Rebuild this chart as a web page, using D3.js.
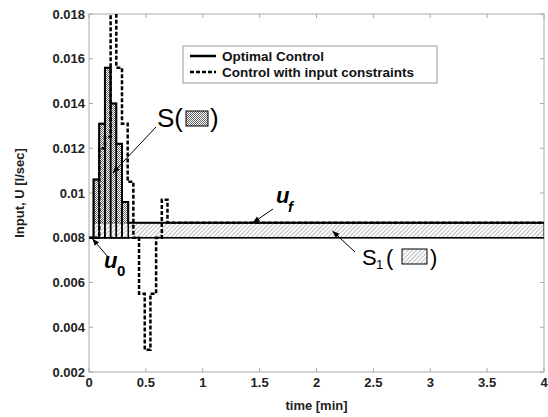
<!DOCTYPE html>
<html><head><meta charset="utf-8">
<script src="https://cdn.jsdelivr.net/npm/d3@7"></script>
<style>body{margin:0;background:#fff}svg{display:block}text{font-family:"Liberation Sans",Arial,sans-serif}</style>
</head><body>
<script>
// ---- data ----
const solidT = [0, 0.04, 0.09, 0.14, 0.19, 0.24, 0.29, 0.345, 4];
const solidV = [0.008, 0.0106, 0.0131, 0.0156, 0.0140, 0.0122, 0.0096, 0.00867, 0.00867];
const dashT = [0, 0.09, 0.14, 0.19, 0.24, 0.29, 0.34, 0.39, 0.44, 0.49, 0.54, 0.59, 0.64, 0.69, 4];
const dashV = [0.008, 0.0120, 0.0125, 0.0195, 0.0156, 0.0131, 0.0105, 0.008, 0.0055, 0.003, 0.0055, 0.008, 0.0097, 0.00867, 0.00867];
const u0 = 0.008, uf = 0.00867;
const xTicks = [0, 0.5, 1, 1.5, 2, 2.5, 3, 3.5, 4];
const xTickLabels = ["0", "0.5", "1", "1.5", "2", "2.5", "3", "3.5", "4"];
const yTicks = [0.002, 0.004, 0.006, 0.008, 0.01, 0.012, 0.014, 0.016, 0.018];
const yTickLabels = ["0.002", "0.004", "0.006", "0.008", "0.01", "0.012", "0.014", "0.016", "0.018"];
const legendLabels = ["Optimal Control", "Control with input constraints"];

const W = 548, H = 417;
const L = 89, R = 544, T = 14, B = 372;
const x = d3.scaleLinear().domain([0, 4]).range([L, R]);
const y = d3.scaleLinear().domain([0.002, 0.018]).range([B, T]);

const svg = d3.select("body").append("svg").attr("width", W).attr("height", H);
const defs = svg.append("defs");
const chk = defs.append("pattern").attr("id", "chk").attr("patternUnits", "userSpaceOnUse").attr("width", 2).attr("height", 2);
chk.append("rect").attr("width", 2).attr("height", 2).attr("fill", "#fff");
chk.append("rect").attr("width", 1).attr("height", 1).attr("fill", "#666");
chk.append("rect").attr("x", 1).attr("y", 1).attr("width", 1).attr("height", 1).attr("fill", "#666");
const hat = defs.append("pattern").attr("id", "hat").attr("patternUnits", "userSpaceOnUse").attr("width", 3).attr("height", 3).attr("patternTransform", "rotate(45)");
hat.append("rect").attr("width", 3).attr("height", 3).attr("fill", "#fff");
hat.append("line").attr("x1", 0).attr("y1", 0).attr("x2", 0).attr("y2", 3).attr("stroke", "#777").attr("stroke-width", 1);
defs.append("clipPath").attr("id", "clip").append("rect").attr("x", L).attr("y", T).attr("width", R - L).attr("height", B - T);
const mk = defs.append("marker").attr("id", "arr").attr("viewBox", "0 0 10 10").attr("refX", 10).attr("refY", 5)
  .attr("markerWidth", 7).attr("markerHeight", 7).attr("orient", "auto");
mk.append("path").attr("d", "M0,1 L10,5 L0,9 Z").attr("fill", "#000");

// frame
svg.append("rect").attr("x", L).attr("y", T).attr("width", R - L).attr("height", B - T)
  .attr("fill", "none").attr("stroke", "#aaa").attr("stroke-width", 1);

// ticks (inward, on all sides)
const tk = svg.append("g").attr("stroke", "#aaa").attr("stroke-width", 1);
xTicks.forEach(t => {
  tk.append("line").attr("x1", x(t)).attr("x2", x(t)).attr("y1", B).attr("y2", B - 4);
  tk.append("line").attr("x1", x(t)).attr("x2", x(t)).attr("y1", T).attr("y2", T + 4);
});
yTicks.forEach(v => {
  tk.append("line").attr("x1", L).attr("x2", L + 4).attr("y1", y(v)).attr("y2", y(v));
  tk.append("line").attr("x1", R).attr("x2", R - 4).attr("y1", y(v)).attr("y2", y(v));
});
// tick labels
svg.append("g").selectAll("text").data(xTicks).join("text")
  .attr("x", d => x(d)).attr("y", B + 15).attr("text-anchor", "middle")
  .attr("font-size", 13).attr("font-weight", "bold").attr("fill", "#222")
  .text((d, i) => xTickLabels[i]);
svg.append("g").selectAll("text").data(yTicks).join("text")
  .attr("x", L - 4).attr("y", d => y(d) + 4.5).attr("text-anchor", "end")
  .attr("font-size", 13).attr("font-weight", "bold").attr("fill", "#222")
  .text((d, i) => yTickLabels[i]);
svg.append("text").attr("x", (L + R) / 2).attr("y", 410).attr("text-anchor", "middle")
  .attr("font-size", 13).attr("font-weight", "bold").attr("fill", "#222").text("time [min]");
svg.append("text").attr("transform", `translate(24,${(T + B) / 2}) rotate(-90)`).attr("text-anchor", "middle")
  .attr("font-size", 13).attr("font-weight", "bold").attr("fill", "#222").text("Input, U [l/sec]");

const g = svg.append("g").attr("clip-path", "url(#clip)");
// S1 band
g.append("rect").attr("x", x(solidT[1])).attr("y", y(uf)).attr("width", x(4) - x(solidT[1])).attr("height", y(u0) - y(uf))
  .attr("fill", "url(#hat)").attr("stroke", "#000").attr("stroke-width", 1);
// S bars
const bars = d3.range(1, solidT.length - 2).map(i => ({t0: solidT[i], t1: solidT[i + 1], v: solidV[i]}));
g.selectAll(".bar").data(bars).join("rect")
  .attr("x", d => x(d.t0)).attr("width", d => x(d.t1) - x(d.t0))
  .attr("y", d => y(d.v)).attr("height", d => y(uf) - y(d.v))
  .attr("fill", "url(#chk)");
g.selectAll(".bo").data(bars).join("rect")
  .attr("x", d => x(d.t0)).attr("width", d => x(d.t1) - x(d.t0))
  .attr("y", d => y(d.v)).attr("height", d => y(u0) - y(d.v))
  .attr("fill", "none").attr("stroke", "#000").attr("stroke-width", 1.5);
// solid step line
const sd = solidT.map((t, i) => [t, solidV[i]]);
const line = d3.line().x(d => x(d[0])).y(d => y(d[1])).curve(d3.curveStepAfter);
g.append("path").attr("d", line(sd)).attr("fill", "none").attr("stroke", "#000").attr("stroke-width", 2);
g.append("line").attr("x1", x(0)).attr("x2", x(4)).attr("y1", y(u0)).attr("y2", y(u0)).attr("stroke", "#000").attr("stroke-width", 1.5);
// dashed
const dd = dashT.map((t, i) => [t, dashV[i]]);
g.append("path").attr("d", line(dd)).attr("fill", "none").attr("stroke", "#000").attr("stroke-width", 2.5)
  .attr("stroke-dasharray", "4,2");

// legend
const lg = svg.append("g");
lg.append("rect").attr("x", 183).attr("y", 46).attr("width", 254).attr("height", 37).attr("fill", "#fff").attr("stroke", "#999");
lg.append("line").attr("x1", 190).attr("x2", 216).attr("y1", 56).attr("y2", 56).attr("stroke", "#000").attr("stroke-width", 2.5);
lg.append("line").attr("x1", 190).attr("x2", 216).attr("y1", 72).attr("y2", 72).attr("stroke", "#000").attr("stroke-width", 2.5).attr("stroke-dasharray", "4,2");
lg.selectAll("text").data(legendLabels).join("text").attr("x", 222).attr("y", (d, i) => 61 + i * 15.5)
  .attr("font-size", 13.5).attr("font-weight", "bold").attr("fill", "#111").text(d => d);

// annotations
svg.append("text").attr("x", 157).attr("y", 127).attr("font-size", 26).attr("fill", "#000").text("S(");
svg.append("rect").attr("x", 186).attr("y", 111).attr("width", 22).attr("height", 15).attr("fill", "url(#chk)").attr("stroke", "#000");
svg.append("text").attr("x", 210).attr("y", 127).attr("font-size", 26).attr("fill", "#000").text(")");
svg.append("line").attr("x1", 156).attr("y1", 127).attr("x2", x(0.21)).attr("y2", y(0.0109)).attr("stroke", "#000").attr("stroke-width", 1).attr("marker-end", "url(#arr)");

svg.append("text").attr("x", 104).attr("y", 268).attr("font-size", 22).attr("font-weight", "bold").attr("font-style", "italic").attr("font-family", "Liberation Serif,serif").text("u");
svg.append("text").attr("x", 117).attr("y", 276).attr("font-size", 15).attr("font-weight", "bold").attr("font-family", "Liberation Serif,serif").text("0");
svg.append("line").attr("x1", 108).attr("y1", 257).attr("x2", x(0.03)).attr("y2", y(u0) + 1).attr("stroke", "#000").attr("stroke-width", 1).attr("marker-end", "url(#arr)");

svg.append("text").attr("x", 276).attr("y", 203).attr("font-size", 22).attr("font-weight", "bold").attr("font-style", "italic").attr("font-family", "Liberation Serif,serif").text("u");
svg.append("text").attr("x", 288).attr("y", 212).attr("font-size", 15).attr("font-weight", "bold").attr("font-style", "italic").attr("font-family", "Liberation Serif,serif").text("f");
svg.append("line").attr("x1", 273).attr("y1", 209).attr("x2", x(1.44)).attr("y2", y(uf)).attr("stroke", "#000").attr("stroke-width", 1).attr("marker-end", "url(#arr)");

svg.append("text").attr("x", 362).attr("y", 265).attr("font-size", 22).attr("fill", "#000").text("S");
svg.append("text").attr("x", 376).attr("y", 269).attr("font-size", 13).attr("fill", "#000").text("1");
svg.append("text").attr("x", 386).attr("y", 265).attr("font-size", 22).attr("fill", "#000").text("(");
svg.append("rect").attr("x", 402).attr("y", 249).attr("width", 25).attr("height", 15).attr("fill", "url(#hat)").attr("stroke", "#000");
svg.append("text").attr("x", 430).attr("y", 265).attr("font-size", 22).attr("fill", "#000").text(")");
svg.append("line").attr("x1", 355).attr("y1", 252).attr("x2", x(2.14)).attr("y2", y(0.0083)).attr("stroke", "#000").attr("stroke-width", 1).attr("marker-end", "url(#arr)");
</script>
</body></html>
